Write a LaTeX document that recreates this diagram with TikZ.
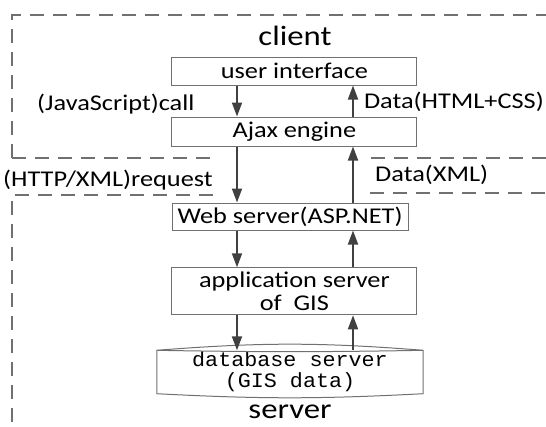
\documentclass[tikz,border=0pt]{standalone}
\usepackage{fontspec}
\setmainfont{Carlito}[FakeStretch=1.17]
\newfontfamily\dbfont{Liberation Mono}[FakeStretch=1.06]
\usetikzlibrary{arrows.meta,positioning}
\definecolor{linegray}{HTML}{404040}
\definecolor{boxgray}{HTML}{707070}

\begin{document}
\begin{tikzpicture}[x=1pt,y=-1pt,
  box/.style={draw=boxgray,line width=1pt,minimum width=245pt,minimum height=28pt,inner sep=0pt,font=\fontsize{22.5}{23}\selectfont},
  arr/.style={draw=linegray,line width=1.8pt,-{Triangle[width=10pt,length=14pt]}},
  frame/.style={draw=boxgray,line width=1.2pt,dash pattern=on 14pt off 9pt},
  lbl/.style={font=\fontsize{22.5}{24}\selectfont,inner sep=0pt},
  title/.style={font=\fontsize{28}{30}\selectfont,inner sep=0pt}]
  \useasboundingbox (0,0) rectangle (546,426);

  \draw[frame] (12,158) -- (12,15) -- (546,15); %client frame
  \draw[frame] (12,158) -- (217,158);
  \draw[frame] (371,158) -- (546,158);
  \draw[frame] (213,195) -- (12,195) -- (12,426); %server frame
  \draw[frame] (370,193) -- (546,193);

  \coordinate (lx) at (237,0); %left arrow line
  \coordinate (rx) at (353,0); %right arrow line

  \node[title,anchor=base] (client) at (295,45) {client};
  \node[box] (ui) at (294.4,71) {user interface};
  \node[box,minimum height=29pt] (ajax) at (294.4,131.5) {Ajax engine};
  \node[box,minimum width=236pt,minimum height=27pt] (web) at (290,216.5) {Web server(ASP.NET)};
  \node[box,minimum height=47pt,align=center] (app) at (294.4,291.3) {application server\\of\ \ GIS};
  \node[minimum width=266pt,minimum height=43pt,inner sep=0pt,align=center,
        font=\dbfont\fontsize{20.5}{21}\selectfont] (db) at (290,372) {database server\\(GIS data)};
  \node[title,anchor=base] (server) at (290,418) {server};

  \node[lbl,anchor=west] (jscall) at (37,104) {(JavaScript)call};
  \node[lbl,anchor=east] (htmldata) at (544,102) {Data(HTML+CSS)};
  \node[lbl,anchor=west] (request) at (3,180) {(HTTP/XML)request};
  \node[lbl,anchor=west] (xmldata) at (375,175) {Data(XML)};

  % database drum
  \draw[boxgray,line width=1pt] (db.north west) to[bend left=4.5] (db.north east) -- (db.south east)
    to[bend left=3] (db.south west) -- cycle;
  \draw[boxgray,line width=1pt] (db.north west) to[bend right=1] (db.north east); %lower rim

  \draw[arr] (ui.south -| lx) -- (ajax.north -| lx);
  \draw[arr] (ajax.north -| rx) -- (ui.south -| rx);
  \draw[arr] (ajax.south -| lx) -- (web.north -| lx);
  \draw[arr] (web.north -| rx) -- (ajax.south -| rx);
  \draw[arr] (web.south -| lx) -- (app.north -| lx);
  \draw[arr] (app.north -| rx) -- (web.south -| rx);
  \draw[arr] (app.south -| lx) -- (db.north -| lx);
  \draw[arr] (db.north -| rx) -- (app.south -| rx);
\end{tikzpicture}
\end{document}
